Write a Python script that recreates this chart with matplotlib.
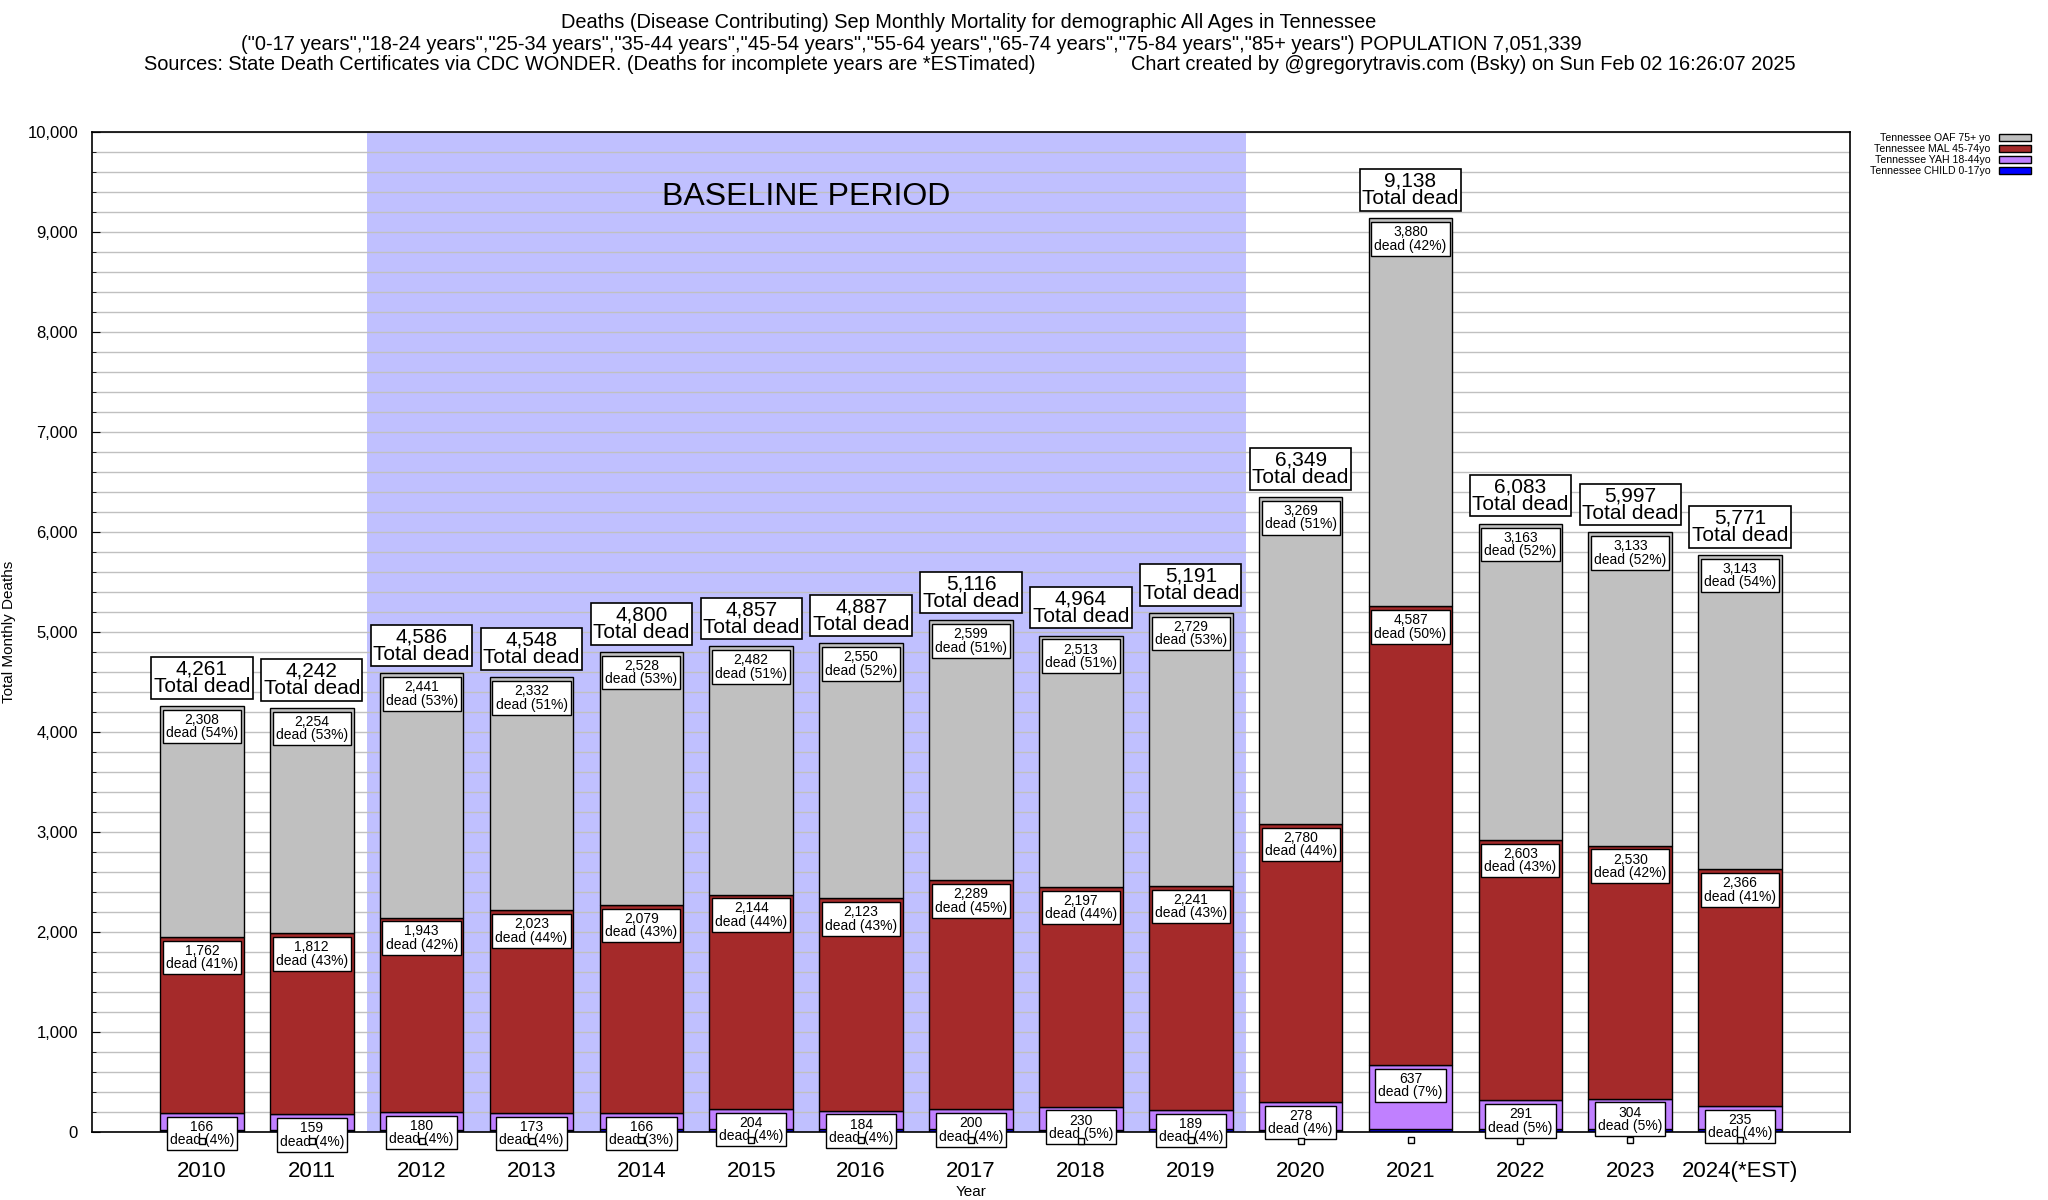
import matplotlib
matplotlib.use('Agg')
import matplotlib.pyplot as plt
from matplotlib.patches import Patch
from matplotlib.ticker import FuncFormatter, MultipleLocator
from matplotlib.transforms import ScaledTranslation

plt.rcParams['font.family'] = ['Liberation Sans', 'DejaVu Sans']

years = ['2010', '2011', '2012', '2013', '2014', '2015', '2016', '2017',
         '2018', '2019', '2020', '2021', '2022', '2023', '2024(*EST)']
child = [25, 17, 22, 20, 27, 27, 30, 28, 24, 32, 22, 34, 26, 30, 27]
yah = [166, 159, 180, 173, 166, 204, 184, 200, 230, 189, 278, 637, 291, 304, 235]
mal = [1762, 1812, 1943, 2023, 2079, 2144, 2123, 2289, 2197, 2241, 2780, 4587, 2603, 2530, 2366]
oaf = [2308, 2254, 2441, 2332, 2528, 2482, 2550, 2599, 2513, 2729, 3269, 3880, 3163, 3133, 3143]
totals = [4261, 4242, 4586, 4548, 4800, 4857, 4887, 5116, 4964, 5191, 6349, 9138, 6083, 5997, 5771]

baseline_start, baseline_end = 2, 9   # indices of 2012 and 2019

c_child = '#0000ff'
c_yah = '#c080ff'
c_mal = '#a52a2a'
c_oaf = '#c0c0c0'

fig = plt.figure(figsize=(20.48, 12), dpi=100)
ax = fig.add_axes([92/2048, 1 - 1132/1200, (1850-92)/2048, (1132-132)/1200])

x = list(range(len(years)))
w = 0.76

ax.axvspan(baseline_start - 0.5, baseline_end + 0.5, color='#c0c0ff', zorder=0.2, lw=0)
ax.text((baseline_start + baseline_end) / 2, 9350, 'BASELINE PERIOD', ha='center', va='center',
        fontsize=23, zorder=1)

b1 = [c for c in child]
b2 = [c + y for c, y in zip(child, yah)]
b3 = [a + m for a, m in zip(b2, mal)]

ax.bar(x, child, w, color=c_child, edgecolor='black', lw=1, zorder=2)
ax.bar(x, yah, w, bottom=b1, color=c_yah, edgecolor='black', lw=1, zorder=2)
ax.bar(x, mal, w, bottom=b2, color=c_mal, edgecolor='black', lw=1, zorder=2)
ax.bar(x, oaf, w, bottom=b3, color=c_oaf, edgecolor='black', lw=1, zorder=2)

box = dict(boxstyle='square,pad=0.22', fc='white', ec='black', lw=1)
bigbox = dict(boxstyle='square,pad=0.12', fc='white', ec='black', lw=1.2)

for i in x:
    tot = totals[i]
    # segment labels
    for val, top in ((oaf[i], b3[i] + oaf[i]), (mal[i], b3[i]), (yah[i], b2[i])):
        pct = round(val / tot * 100)
        ax.annotate('{:,}\ndead ({}%)'.format(val, pct), (i, top), xytext=(0, -5),
                    textcoords='offset points', ha='center', va='top', fontsize=10,
                    linespacing=0.95, bbox=box, zorder=5, annotation_clip=False)
    ax.annotate('{:,}\nTotal dead'.format(tot), (i, tot), xytext=(0, 7),
                textcoords='offset points', ha='center', va='bottom', fontsize=15,
                linespacing=0.9, bbox=bigbox, zorder=5, annotation_clip=False)

# empty child label boxes (tiny squares just under the child segment)
shift = ax.transData + ScaledTranslation(0, -8/72, fig.dpi_scale_trans)
ax.plot(x, child, ls='none', marker='s', ms=5, mfc='white', mec='black', mew=1,
        transform=shift, clip_on=False, zorder=6)

ax.set_xlim(-1, 15)
ax.set_ylim(0, 10000)
ax.set_xticks(x)
ax.set_xticklabels(years, fontsize=16)
ax.tick_params(axis='x', length=0, pad=21)
ax.yaxis.set_major_locator(MultipleLocator(1000))
ax.yaxis.set_minor_locator(MultipleLocator(200))
ax.yaxis.set_major_formatter(FuncFormatter(lambda v, p: '{:,.0f}'.format(v)))
ax.tick_params(axis='y', which='major', direction='in', length=6, labelsize=12, pad=10)
ax.tick_params(axis='y', which='minor', direction='in', length=3)
ax.grid(axis='y', which='both', color='#c0c0c0', lw=1, zorder=0.5)
ax.set_axisbelow(True)
for s in ax.spines.values():
    s.set_linewidth(1.2)
ax.set_xlabel('Year', fontsize=11, labelpad=2)
ax.set_ylabel('Total Monthly Deaths', fontsize=11, labelpad=8)

fig.text(969/2048, 1 - 23/1200,
         'Deaths (Disease Contributing) Sep Monthly Mortality for demographic All Ages in Tennessee',
         ha='center', va='center', fontsize=14.4)
fig.text(911/2048, 1 - 44/1200,
         '("0-17 years","18-24 years","25-34 years","35-44 years","45-54 years","55-64 years",'
         '"65-74 years","75-84 years","85+ years") POPULATION 7,051,339',
         ha='center', va='center', fontsize=14.4)
fig.text(144/2048, 1 - 64/1200,
         'Sources: State Death Certificates via CDC WONDER. (Deaths for incomplete years are *ESTimated)',
         ha='left', va='center', fontsize=14.4)
fig.text(1131/2048, 1 - 64/1200,
         'Chart created by @gregorytravis.com (Bsky) on Sun Feb 02 16:26:07 2025',
         ha='left', va='center', fontsize=14.4)

handles = [Patch(fc=c_oaf, ec='black'), Patch(fc=c_mal, ec='black'),
           Patch(fc=c_yah, ec='black'), Patch(fc=c_child, ec='black')]
labels = ['Tennessee OAF 75+ yo', 'Tennessee MAL 45-74yo',
          'Tennessee YAH 18-44yo', 'Tennessee CHILD 0-17yo']
fig.legend(handles, labels, loc='upper right', bbox_to_anchor=(2036/2048, 1 - 128/1200),
           frameon=False, fontsize=7.6, markerfirst=False, handlelength=3, handleheight=0.6,
           labelspacing=0.1, borderpad=0, handletextpad=0.8)

fig.savefig('out.png', dpi=100)
